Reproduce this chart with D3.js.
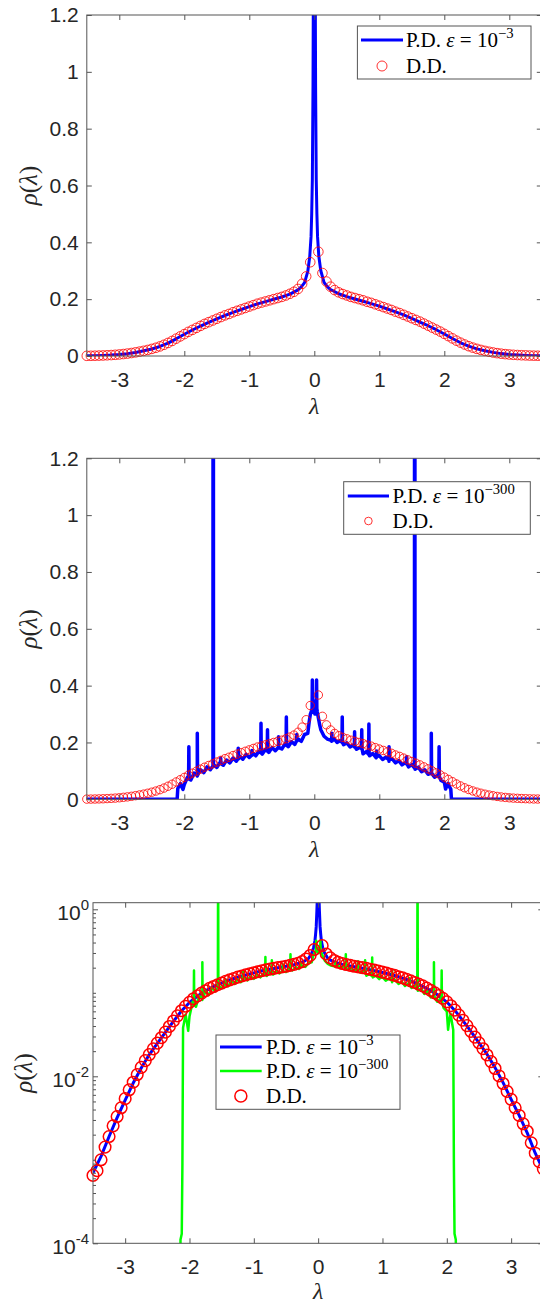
<!DOCTYPE html>
<html>
<head>
<meta charset="utf-8">
<script src="https://cdn.jsdelivr.net/npm/d3@7"></script>
<style>
  body { margin: 0; background: #fff; }
  svg { display: block; }
</style>
</head>
<body>
<svg width="540" height="1305"></svg>
<script>
// D.D. (direct diagonalisation) histogram, bin centres
var ddLam = [-3.5,-3.4375,-3.375,-3.3125,-3.25,-3.1875,-3.125,-3.0625,-3,-2.9375,-2.875,-2.8125,-2.75,-2.6875,-2.625,-2.5625,
  -2.5,-2.4375,-2.375,-2.3125,-2.25,-2.1875,-2.125,-2.0625,-2,-1.9375,-1.875,-1.8125,-1.75,-1.6875,-1.625,-1.5625,
  -1.5,-1.4375,-1.375,-1.3125,-1.25,-1.1875,-1.125,-1.0625,-1,-0.9375,-0.875,-0.8125,-0.75,-0.6875,-0.625,-0.5625,
  -0.5,-0.4375,-0.375,-0.3125,-0.25,-0.1875,-0.125,-0.0625,
  0.0625,0.125,0.1875,0.25,0.3125,0.375,0.4375,0.5,0.5625,0.625,0.6875,0.75,0.8125,0.875,0.9375,1,
  1.0625,1.125,1.1875,1.25,1.3125,1.375,1.4375,1.5,1.5625,1.625,1.6875,1.75,1.8125,1.875,1.9375,2,
  2.0625,2.125,2.1875,2.25,2.3125,2.375,2.4375,2.5,2.5625,2.625,2.6875,2.75,2.8125,2.875,2.9375,3,
  3.0625,3.125,3.1875,3.25,3.3125,3.375,3.4375,3.5];
var ddRho = [0.00065,0.00074,0.00100,0.00142,0.00190,0.00255,0.00330,0.00420,0.00540,0.00690,0.00850,0.0105,0.0128,0.0154,0.0182,0.0213,
  0.0250,0.0290,0.0338,0.0395,0.0460,0.0530,0.0610,0.0690,0.0770,0.0850,0.0920,0.0990,0.1060,0.1130,0.1190,0.1250,
  0.1310,0.1370,0.1430,0.1480,0.1540,0.1590,0.1640,0.1690,0.1740,0.1790,0.1840,0.1880,0.1920,0.1960,0.2000,0.2040,
  0.2080,0.2130,0.2190,0.2260,0.2360,0.2540,0.2800,0.3300,
  0.367,0.292,0.262,0.244,0.232,0.224,0.218,0.213,0.208,0.204,0.200,0.196,0.191,0.187,0.182,0.177,
  0.172,0.167,0.162,0.156,0.151,0.145,0.139,0.133,0.127,0.121,0.114,0.107,0.100,0.093,0.086,0.078,
  0.070,0.062,0.054,0.047,0.0405,0.0345,0.0295,0.0252,0.0214,0.0180,0.0150,0.0124,0.0101,0.0082,0.0066,0.0053,
  0.0042,0.0034,0.0027,0.0022,0.0016,0.00120,0.00095,0.00078];

// P.D. eps = 1e-3
var pd3Lam = [-3.5,-3.375,-3.25,-3.125,-3,-2.875,-2.75,-2.625,-2.5,-2.375,-2.25,-2.125,-2,-1.875,-1.75,-1.625,-1.5,
  -1.375,-1.25,-1.125,-1,-0.875,-0.75,-0.625,-0.5,-0.375,-0.25,-0.2,-0.15,-0.1,-0.07,-0.05,-0.04,-0.03,-0.02,-0.01,
  0,0.01,0.02,0.03,0.04,0.05,0.07,0.1,0.15,0.2,0.25,0.375,0.5,0.625,0.75,0.875,1,1.125,1.25,1.375,1.5,1.625,1.75,
  1.875,2,2.125,2.25,2.375,2.5,2.625,2.75,2.875,3,3.125,3.25,3.375,3.5];
var pd3Rho = [0.0007,0.0011,0.0019,0.0032,0.0052,0.0083,0.0126,0.0182,0.0248,0.0335,0.0455,0.0605,0.0765,0.0915,0.1055,0.1185,0.1305,
  0.1425,0.1535,0.1635,0.1735,0.1835,0.1915,0.1995,0.2075,0.2175,0.2325,0.243,0.258,0.298,0.35,0.42,0.50,0.62,0.95,1.6,
  6.0,1.6,0.95,0.62,0.50,0.42,0.35,0.300,0.259,0.244,0.234,0.219,0.209,0.2005,0.1925,0.1845,0.1755,0.1655,0.1555,0.1445,0.1325,0.1195,0.1065,
  0.0925,0.0775,0.0615,0.0465,0.0345,0.0252,0.0184,0.0127,0.0084,0.0053,0.0034,0.0021,0.0012,0.00075];

// P.D. eps = 1e-300, noisy band
var pd300Lam = [-3.5,-2.15,-2.14,-2.12,-2.11,-2.1,-2.08,-2.06,-2.04,-2.02,-2,
  -1.95,-1.9,-1.85,-1.8,-1.75,-1.7,-1.65,-1.6,-1.55,-1.5,-1.45,-1.4,-1.35,-1.3,-1.25,-1.2,-1.15,-1.1,-1.05,-1,
  -0.95,-0.9,-0.85,-0.8,-0.75,-0.7,-0.65,-0.6,-0.55,-0.5,-0.45,-0.4,-0.35,-0.3,-0.25,-0.2,-0.15,-0.1,
  -0.08,-0.06,-0.045,-0.02,-0.01,0,0.01,0.02,0.045,0.06,0.08,
  0.1,0.15,0.2,0.25,0.3,0.35,0.4,0.45,0.5,0.55,0.6,0.65,0.7,0.75,0.8,0.85,0.9,0.95,1,
  1.05,1.1,1.15,1.2,1.25,1.3,1.35,1.4,1.45,1.5,1.55,1.6,1.65,1.7,1.75,1.8,1.85,1.9,1.95,2,
  2.02,2.04,2.06,2.08,2.1,2.11,2.12,2.14,2.15,3.5];
var pd300Rho = [0,0,0.00011,0.00013,0.0009,0.038,0.046,0.055,0.044,0.035,0.052,
  0.078,0.068,0.092,0.082,0.104,0.094,0.114,0.104,0.122,0.112,0.130,0.120,0.138,0.128,0.145,0.134,0.152,0.141,0.158,0.147,
  0.164,0.153,0.170,0.159,0.176,0.165,0.182,0.171,0.188,0.177,0.195,0.185,0.203,0.193,0.212,0.204,0.228,0.232,
  0.27,0.30,0.31,0.33,0.305,0.345,0.30,0.33,0.31,0.29,0.265,
  0.245,0.222,0.212,0.208,0.214,0.200,0.207,0.192,0.199,0.184,0.191,0.176,0.183,0.160,0.168,0.153,0.161,0.146,0.154,
  0.140,0.148,0.134,0.142,0.128,0.136,0.121,0.129,0.114,0.122,0.106,0.113,0.097,0.104,0.088,0.095,0.078,0.085,0.066,0.060,
  0.036,0.048,0.056,0.044,0.036,0.0009,0.00013,0.00011,0,0];
// narrow spikes of the eps = 1e-300 curve
var spikeLam  = [-1.93,-1.8,-1.555,-1.44,-1.17,-0.96,-0.82,-0.72,-0.55,-0.43,-0.27,-0.03,0.035,0.27,0.43,0.62,0.73,0.84,0.96,1.15,1.42,1.545,1.8,1.92];
var spikeBase = [0.072,0.085,0.117,0.125,0.142,0.155,0.164,0.170,0.182,0.190,0.205,0.32,0.32,0.205,0.200,0.185,0.178,0.158,0.150,0.140,0.125,0.110,0.092,0.080];
var spikePeak = [0.185,0.232,6,0.145,0.18,0.172,0.268,0.245,0.22,0.29,0.228,0.42,0.42,0.232,0.29,0.238,0.245,0.265,0.17,0.185,0.15,6,0.232,0.185];

var xTicks = [-3,-2,-1,0,1,2,3];
var yTicksLin = [0,0.2,0.4,0.6,0.8,1,1.2];
var yTicksLog = [1e-4,1e-2,1];
var yLogExp = ["-4","-2","0"];

var svg = d3.select("svg");
var sans = "'Liberation Sans', Arial, Helvetica, sans-serif";
var serif = "'Liberation Serif', 'Times New Roman', serif";
var axisColor = "#555", textColor = "#262626";

var ddPts = ddLam.map(function(l, i) { return [l, ddRho[i]]; });
var pd3Pts = pd3Lam.map(function(l, i) { return [l, pd3Rho[i]]; });
var pd300Pts = pd300Lam.map(function(l, i) { return [l, pd300Rho[i]]; });
spikeLam.forEach(function(l, i) {
  pd300Pts.push([l - 0.004, spikeBase[i]], [l, spikePeak[i]], [l + 0.004, spikeBase[i]]);
});
pd300Pts.sort(function(a, b) { return a[0] - b[0]; });

function styleAxis(sel) {
  sel.select(".domain").remove();
  sel.selectAll(".tick line").attr("stroke", axisColor);
  sel.selectAll(".tick text").attr("fill", textColor).attr("font-family", sans).attr("font-size", 21);
  return sel;
}

function label(text, parts, size) {
  parts.forEach(function(pt) {
    var ts = text.append("tspan").text(pt.t);
    if (pt.it) ts.attr("font-style", "italic");
    if (pt.sup) ts.attr("font-size", size * 0.7).attr("dy", -size * 0.42);
  });
}

var pd3Label = [{t: "P.D. "}, {t: "\u03b5", it: true}, {t: " = 10"}, {t: "\u22123", sup: true}];
var pd300Label = [{t: "P.D. "}, {t: "\u03b5", it: true}, {t: " = 10"}, {t: "\u2212300", sup: true}];
var ddLabel = [{t: "D.D."}];

function drawPanel(p) {
  var g = svg.append("g").attr("transform", "translate(" + p.left + "," + p.top + ")");
  var x = d3.scaleLinear().domain([-3.5, 3.5]).range([0, p.width]);
  var y = p.log ? d3.scaleLog().domain([1e-4, 1.2]).range([p.height, 0])
                : d3.scaleLinear().domain([0, 1.2]).range([p.height, 0]);
  var yv = function(v) { return p.log ? y(Math.max(v, 1e-9)) : y(v); };

  g.append("clipPath").attr("id", "clip" + p.id)
    .append("rect").attr("width", p.width).attr("height", p.height);

  var line = d3.line()
    .x(function(d) { return x(d[0]); })
    .y(function(d) { return yv(d[1]); });

  p.series.forEach(function(s) {
    g.append("path")
      .datum(s.pts)
      .attr("clip-path", "url(#clip" + p.id + ")")
      .attr("fill", "none")
      .attr("stroke", s.color)
      .attr("stroke-width", s.w)
      .attr("stroke-linejoin", "round")
      .attr("d", line);
  });

  g.append("g").selectAll("circle")
    .data(ddPts.filter(function(d) { return d[1] >= y.domain()[0] && d[1] <= 1.2; }))
    .enter().append("circle")
    .attr("cx", function(d) { return x(d[0]); })
    .attr("cy", function(d) { return yv(d[1]); })
    .attr("r", p.r)
    .attr("fill", "none")
    .attr("stroke", "#ff0000")
    .attr("stroke-width", p.cw)
    .attr("stroke-opacity", p.co);

  var fmt = function(d) { return String(+d.toFixed(1)); };

  styleAxis(g.append("g").attr("transform", "translate(0," + p.height + ")")
    .call(d3.axisBottom(x).tickValues(xTicks).tickSize(-5).tickPadding(16).tickFormat(fmt)));
  styleAxis(g.append("g")
    .call(d3.axisTop(x).tickValues(xTicks).tickSize(-5).tickFormat("")));

  if (!p.log) {
    styleAxis(g.append("g")
      .call(d3.axisLeft(y).tickValues(yTicksLin).tickSize(-5).tickPadding(8).tickFormat(fmt)));
    styleAxis(g.append("g").attr("transform", "translate(" + p.width + ",0)")
      .call(d3.axisRight(y).tickValues(yTicksLin).tickSize(-5).tickFormat("")));
  } else {
    var minors = y.ticks().filter(function(t) {
      return !yTicksLog.some(function(m) { return Math.abs(t / m - 1) < 1e-6; });
    });
    styleAxis(g.append("g").call(d3.axisLeft(y).tickValues(minors).tickSize(-3).tickFormat("")));
    styleAxis(g.append("g").attr("transform", "translate(" + p.width + ",0)")
      .call(d3.axisRight(y).tickValues(minors).tickSize(-3).tickFormat("")));
    var yl = styleAxis(g.append("g").call(d3.axisLeft(y).tickValues(yTicksLog).tickSize(-5).tickFormat("")));
    styleAxis(g.append("g").attr("transform", "translate(" + p.width + ",0)")
      .call(d3.axisRight(y).tickValues(yTicksLog).tickSize(-5).tickFormat("")));
    yl.selectAll(".tick text").remove();
    yl.selectAll(".tick").each(function(d, i) {
      var t = d3.select(this).append("text")
        .attr("x", -4).attr("y", 10.5)
        .attr("text-anchor", "end")
        .attr("fill", textColor)
        .attr("font-family", sans)
        .attr("font-size", 21);
      t.append("tspan").text("10");
      t.append("tspan").text(yLogExp[i]).attr("font-size", 15).attr("dy", -10);
    });
  }

  g.append("rect")
    .attr("width", p.width).attr("height", p.height)
    .attr("fill", "none").attr("stroke", axisColor).attr("stroke-width", 1);

  // axis labels
  var xl = g.append("text")
    .attr("x", p.width / 2).attr("y", p.height + p.xlabY)
    .attr("text-anchor", "middle")
    .attr("font-family", serif).attr("font-size", 24).attr("fill", textColor);
  label(xl, [{t: "\u03bb", it: true}], 24);

  var ylab = g.append("text")
    .attr("transform", "translate(" + p.ylabX + "," + (p.height / 2) + ") rotate(-90)")
    .attr("text-anchor", "middle")
    .attr("font-family", serif).attr("font-size", 25).attr("fill", textColor);
  label(ylab, [{t: "\u03c1", it: true}, {t: "("}, {t: "\u03bb", it: true}, {t: ")"}], 25);

  // legend
  var L = p.legend;
  var lg = g.append("g").attr("transform", "translate(" + L.x + "," + L.y + ")");
  lg.append("rect").attr("width", L.w).attr("height", L.h)
    .attr("fill", "#fff").attr("stroke", axisColor).attr("stroke-width", 1);
  L.rows.forEach(function(row, i) {
    var ry = L.rowY[i];
    if (row.color) {
      lg.append("line").attr("x1", L.lineX[0]).attr("x2", L.lineX[1])
        .attr("y1", ry).attr("y2", ry)
        .attr("stroke", row.color).attr("stroke-width", row.w);
    } else {
      lg.append("circle").attr("cx", (L.lineX[0] + L.lineX[1]) / 2).attr("cy", ry)
        .attr("r", L.r).attr("fill", "none").attr("stroke", "#ff0000")
        .attr("stroke-width", p.cw).attr("stroke-opacity", p.co);
    }
    var t = lg.append("text").attr("x", L.textX).attr("y", ry + 7)
      .attr("font-family", serif).attr("font-size", 21).attr("fill", "#000");
    label(t, row.label, 21);
  });
}

drawPanel({
  id: 1, left: 86.8, top: 15, width: 455, height: 341, log: false,
  r: 4.8, cw: 1, co: 0.8, ylabX: -50, xlabY: 58,
  series: [{pts: pd3Pts, color: "#0000ff", w: 3}],
  legend: {x: 270.6, y: 11, w: 173.6, h: 53, lineX: [3.6, 45.6], textX: 48.6, r: 5,
    rowY: [14, 40],
    rows: [{color: "#0000ff", w: 3, label: pd3Label}, {label: ddLabel}]}
});

drawPanel({
  id: 2, left: 86.8, top: 458.3, width: 455, height: 341, log: false,
  r: 4.2, cw: 1, co: 0.8, ylabX: -50, xlabY: 58,
  series: [{pts: pd300Pts, color: "#0000ff", w: 3.5}],
  legend: {x: 256.9, y: 23.4, w: 186.6, h: 52.6, lineX: [4.1, 45.3], textX: 48.9, r: 3.8,
    rowY: [14.3, 39.3],
    rows: [{color: "#0000ff", w: 3, label: pd300Label}, {label: ddLabel}]}
});

drawPanel({
  id: 3, left: 93, top: 902.7, width: 450.3, height: 340.6, log: true,
  r: 5.8, cw: 1.5, co: 1, ylabX: -61, xlabY: 56,
  series: [{pts: pd3Pts, color: "#0000ff", w: 3}, {pts: pd300Pts, color: "#00ff00", w: 2.5}],
  legend: {x: 123, y: 132.3, w: 184, h: 74.3, lineX: [4, 45.7], textX: 50, r: 6,
    rowY: [12, 36, 61],
    rows: [{color: "#0000ff", w: 3, label: pd3Label}, {color: "#00ff00", w: 2.5, label: pd300Label}, {label: ddLabel}]}
});
</script>
</body>
</html>
